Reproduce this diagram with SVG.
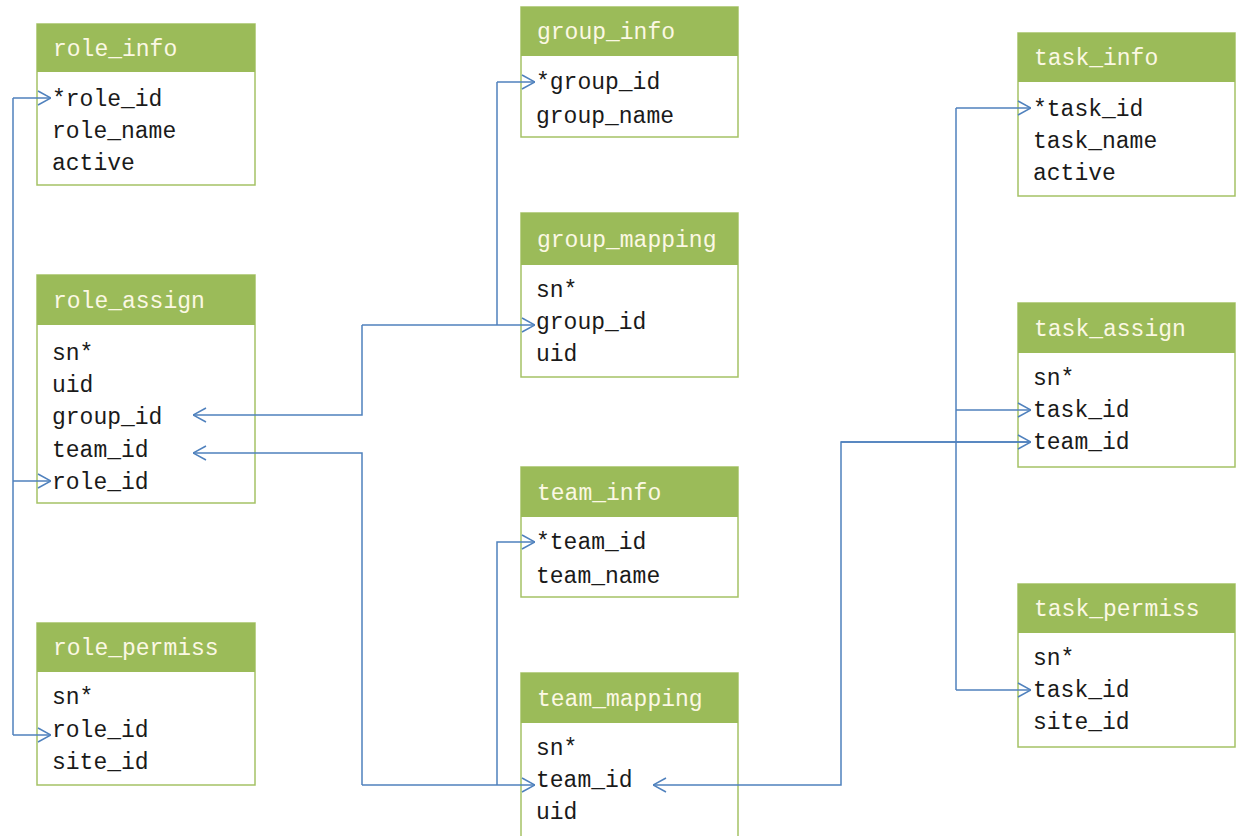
<svg xmlns="http://www.w3.org/2000/svg" width="1237" height="836" viewBox="0 0 1237 836">
  <style>
    .box { fill: #ffffff; stroke: #a5c265; stroke-width: 1.5; }
    .head { fill: #9bbb59; }
    .title { font-family: "Liberation Mono", "DejaVu Sans Mono", monospace; font-size: 23px; fill: #fbf8e4; }
    .field { font-family: "Liberation Mono", "DejaVu Sans Mono", monospace; font-size: 23px; fill: #1a1a1a; }
    .link { fill: none; stroke: #4f81bd; stroke-width: 1.5; }
  </style>
  <defs>
    <marker id="arrow" viewBox="0 0 14 16" refX="14" refY="8" markerWidth="14" markerHeight="16" markerUnits="userSpaceOnUse" orient="auto">
      <path d="M1,1 L14,8 L1,15" fill="none" stroke="#4f81bd" stroke-width="1.5"/>
    </marker>
  </defs>
  <rect width="1237" height="836" fill="#ffffff"/>

  <!-- role tables -->
  <g id="role_info">
    <rect class="box" x="37" y="24" width="218" height="161"/>
    <rect class="head" x="37" y="24" width="218" height="48"/>
    <text class="title" x="53" y="56">role_info</text>
    <text class="field" x="52" y="106">*role_id</text>
    <text class="field" x="52" y="138">role_name</text>
    <text class="field" x="52" y="170">active</text>
  </g>
  <g id="role_assign">
    <rect class="box" x="37" y="275" width="218" height="228"/>
    <rect class="head" x="37" y="275" width="218" height="50"/>
    <text class="title" x="53" y="308">role_assign</text>
    <text class="field" x="52" y="360">sn*</text>
    <text class="field" x="52" y="392">uid</text>
    <text class="field" x="52" y="424">group_id</text>
    <text class="field" x="52" y="457">team_id</text>
    <text class="field" x="52" y="489">role_id</text>
  </g>
  <g id="role_permiss">
    <rect class="box" x="37" y="623" width="218" height="162"/>
    <rect class="head" x="37" y="623" width="218" height="49"/>
    <text class="title" x="53" y="655">role_permiss</text>
    <text class="field" x="52" y="704">sn*</text>
    <text class="field" x="52" y="737">role_id</text>
    <text class="field" x="52" y="769">site_id</text>
  </g>

  <!-- group tables -->
  <g id="group_info">
    <rect class="box" x="521" y="7" width="217" height="130"/>
    <rect class="head" x="521" y="7" width="217" height="49"/>
    <text class="title" x="537" y="39">group_info</text>
    <text class="field" x="536" y="89">*group_id</text>
    <text class="field" x="536" y="123">group_name</text>
  </g>
  <g id="group_mapping">
    <rect class="box" x="521" y="213" width="217" height="164"/>
    <rect class="head" x="521" y="213" width="217" height="52"/>
    <text class="title" x="537" y="247">group_mapping</text>
    <text class="field" x="536" y="297">sn*</text>
    <text class="field" x="536" y="329">group_id</text>
    <text class="field" x="536" y="361">uid</text>
  </g>

  <!-- team tables -->
  <g id="team_info">
    <rect class="box" x="521" y="467" width="217" height="130"/>
    <rect class="head" x="521" y="467" width="217" height="50"/>
    <text class="title" x="537" y="500">team_info</text>
    <text class="field" x="536" y="549">*team_id</text>
    <text class="field" x="536" y="583">team_name</text>
  </g>
  <g id="team_mapping">
    <rect class="box" x="521" y="673" width="217" height="180"/>
    <rect class="head" x="521" y="673" width="217" height="50"/>
    <text class="title" x="537" y="706">team_mapping</text>
    <text class="field" x="536" y="755">sn*</text>
    <text class="field" x="536" y="787">team_id</text>
    <text class="field" x="536" y="819">uid</text>
  </g>

  <!-- task tables -->
  <g id="task_info">
    <rect class="box" x="1018" y="33" width="217" height="163"/>
    <rect class="head" x="1018" y="33" width="217" height="49"/>
    <text class="title" x="1034" y="65">task_info</text>
    <text class="field" x="1033" y="116">*task_id</text>
    <text class="field" x="1033" y="148">task_name</text>
    <text class="field" x="1033" y="180">active</text>
  </g>
  <g id="task_assign">
    <rect class="box" x="1018" y="303" width="217" height="164"/>
    <rect class="head" x="1018" y="303" width="217" height="50"/>
    <text class="title" x="1034" y="336">task_assign</text>
    <text class="field" x="1033" y="385">sn*</text>
    <text class="field" x="1033" y="417">task_id</text>
    <text class="field" x="1033" y="449">team_id</text>
  </g>
  <g id="task_permiss">
    <rect class="box" x="1018" y="584" width="217" height="163"/>
    <rect class="head" x="1018" y="584" width="217" height="49"/>
    <text class="title" x="1034" y="616">task_permiss</text>
    <text class="field" x="1033" y="665">sn*</text>
    <text class="field" x="1033" y="697">task_id</text>
    <text class="field" x="1033" y="729">site_id</text>
  </g>

  <!-- relations -->
  <g id="connectors">
    <!-- role_id -->
    <path class="link" d="M13,98 L13,735"/>
    <path class="link" d="M13,98 L51,98" marker-end="url(#arrow)"/>
    <path class="link" d="M13,481 L51,481" marker-end="url(#arrow)"/>
    <path class="link" d="M13,735 L51,735" marker-end="url(#arrow)"/>
    <!-- group_id -->
    <path class="link" d="M497,82 L497,325"/>
    <path class="link" d="M497,82 L535,82" marker-end="url(#arrow)"/>
    <path class="link" d="M362,325 L535,325" marker-end="url(#arrow)"/>
    <path class="link" d="M362,325 L362,415 L193,415" marker-end="url(#arrow)"/>
    <!-- team_id -->
    <path class="link" d="M362,785 L362,453 L193,453" marker-end="url(#arrow)"/>
    <path class="link" d="M362,785 L535,785" marker-end="url(#arrow)"/>
    <path class="link" d="M497,785 L497,542 L535,542" marker-end="url(#arrow)"/>
    <path class="link" d="M1031,442 L841,442 L841,785 L653,785" marker-end="url(#arrow)"/>
    <path class="link" d="M841,442 L1031,442" marker-end="url(#arrow)"/>
    <!-- task_id -->
    <path class="link" d="M956,108 L956,690"/>
    <path class="link" d="M956,108 L1031,108" marker-end="url(#arrow)"/>
    <path class="link" d="M956,410 L1031,410" marker-end="url(#arrow)"/>
    <path class="link" d="M956,690 L1031,690" marker-end="url(#arrow)"/>
  </g>
</svg>
